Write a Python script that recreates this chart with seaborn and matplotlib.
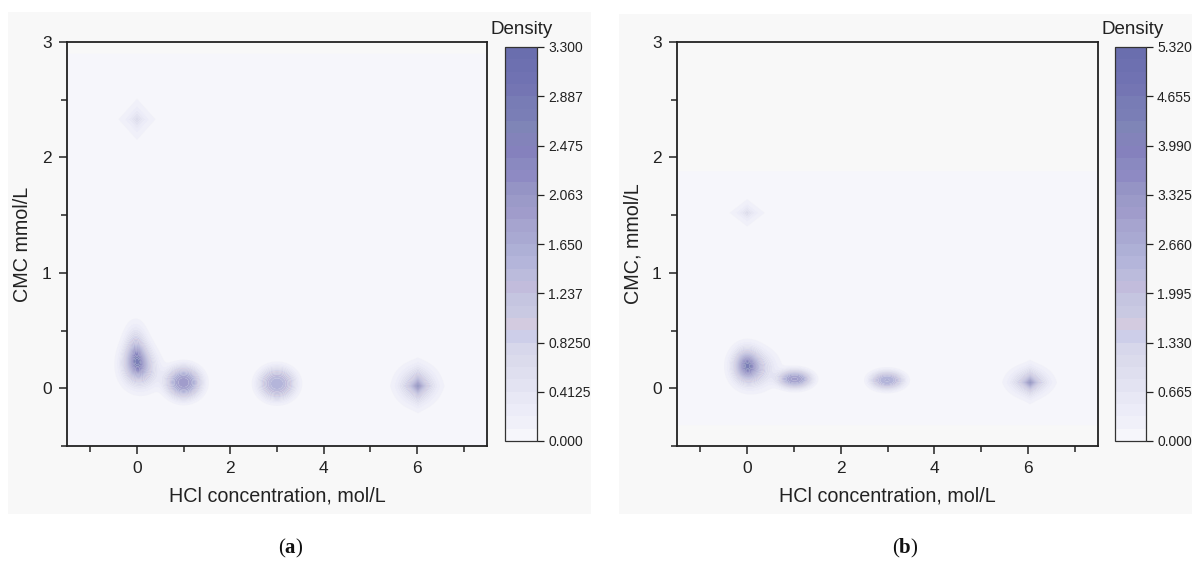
import numpy as np
import matplotlib
matplotlib.use("Agg")
import matplotlib.pyplot as plt
from matplotlib.colors import ListedColormap
from matplotlib.patches import Rectangle
from matplotlib.ticker import MultipleLocator
import seaborn as sns

# ---------------- data ----------------
# panel (a): density peaks
a_hcl     = [0.0, -0.03, 0.12, 1.0, 3.0, 6.02, 6.0, 0.0]
a_cmc     = [0.23, 0.36, 0.14, 0.05, 0.04, 0.02, 0.03, 2.33]
a_peak    = [1.9, 0.8, 0.7, 1.9, 1.5, 2.5, 0.8, 0.75]
a_sd_hcl  = [0.19, 0.15, 0.25, 0.3, 0.31, 0.14, 0.26, 0.2]
a_sd_cmc  = [0.1, 0.12, 0.1, 0.11, 0.11, 0.065, 0.1, 0.09]
a_kind    = ["g", "g", "g", "f", "f", "d", "g", "d"]
a_grid_y  = (-0.5, 2.9)

# panel (b)
b_hcl     = [-0.02, 0.18, 1.02, 2.99, 6.05, 6.03, 0.0]
b_cmc     = [0.20, 0.17, 0.08, 0.07, 0.05, 0.06, 1.52]
b_peak    = [3.3, 1.5, 3.0, 2.5, 4.2, 1.1, 1.2]
b_sd_hcl  = [0.18, 0.27, 0.28, 0.28, 0.14, 0.27, 0.19]
b_sd_cmc  = [0.09, 0.1, 0.065, 0.065, 0.055, 0.075, 0.06]
b_kind    = ["g", "g", "f", "f", "d", "g", "d"]
b_grid_y  = (-0.32, 1.88)

a_vmax = 3.3
b_vmax = 5.32
a_ticklabels = ["0.000", "0.4125", "0.8250", "1.237", "1.650", "2.063", "2.475", "2.887", "3.300"]
b_ticklabels = ["0.000", "0.6650", "1.330", "1.995", "2.660", "3.325", "3.990", "4.655", "5.320"]

x_label = "HCl concentration, mol/L"
a_ylabel = "CMC mmol/L"
b_ylabel = "CMC, mmol/L"

# ---------------- style ----------------
sns.set_theme(style="ticks")
plt.rcParams["font.family"] = ["Liberation Sans", "DejaVu Sans"]
plt.rcParams["mathtext.fontset"] = "custom"
plt.rcParams["mathtext.bf"] = "Liberation Serif:bold"
plt.rcParams["mathtext.rm"] = "Liberation Serif"

band_colors = ["#f6f6fb", "#f0f0f9", "#ececf8", "#e8e8f5",
               "#e3e3f2", "#dfdfef", "#dbdbec", "#d7d7eb",
               "#cdcee9", "#d3cbe0", "#c9c9e2", "#c5c5e0",
               "#c2bcdc", "#bbbbdc", "#b4b5da", "#aeb0d6",
               "#a9a9d2", "#a6a4cf", "#a09ccb", "#9b9ac8",
               "#9594c5", "#8e8ac3", "#8a89c0", "#8581bd",
               "#8383ba", "#7f85b7", "#7a7eb6", "#787cb5",
               "#7475b3", "#7072b2", "#6d70b0", "#6a6eae"]
cmap = ListedColormap(sns.color_palette(band_colors))

W, H = 1192, 563
fig = plt.figure(figsize=(W / 100, H / 100), dpi=100)
fig.patch.set_facecolor("white")

bg = "#f8f8f8"
for rect in [(8, 12, 591, 514), (619, 14, 1192, 514)]:
    x0, y0, x1, y1 = rect
    r = Rectangle((x0 / W, 1 - y1 / H), (x1 - x0) / W, (y1 - y0) / H,
                  transform=fig.transFigure, facecolor=bg, edgecolor="none", zorder=-10)
    fig.add_artist(r)


def density(X, Y, xs, ys, peaks, sx, sy, kinds):
    Z = np.zeros_like(X)
    for x0, y0, A, s1, s2, k in zip(xs, ys, peaks, sx, sy, kinds):
        dx = (X - x0) / s1
        dy = (Y - y0) / s2
        r2 = dx ** 2 + dy ** 2
        if k == "g":
            Z += A * np.exp(-0.5 * r2)
        elif k == "f":
            Z += A * np.exp(-0.5 * r2 ** 1.5)
        else:
            Z += A * np.exp(-(np.abs(dx) + np.abs(dy)))
    return Z


def panel(ax_rect, cax_rect, xs, ys, peaks, sx, sy, kinds, gy, vmax, tlabels, ylabel, tag, tag_x):
    ax = fig.add_axes(ax_rect)
    ax.set_facecolor(bg)
    gx = np.linspace(-1.5, 7.5, 901)
    gyv = np.linspace(gy[0], gy[1], 681)
    X, Y = np.meshgrid(gx, gyv)
    Z = np.clip(density(X, Y, xs, ys, peaks, sx, sy, kinds), 0, vmax * 0.999)
    levels = np.linspace(0, vmax, 33)
    cs = ax.contourf(X, Y, Z, levels=levels, cmap=cmap, antialiased=True)
    ax.set_xlim(-1.5, 7.5)
    ax.set_ylim(-0.5, 3.0)
    ax.xaxis.set_minor_locator(MultipleLocator(1))
    ax.yaxis.set_minor_locator(MultipleLocator(0.5))
    ax.set_xticks([0, 2, 4, 6])
    ax.set_xticklabels(["0", "2", "4", "6"])
    ax.set_yticks([0, 1, 2, 3])
    ax.set_yticklabels(["0", "1", "2", "3"])
    ax.tick_params(which="major", direction="out", length=6, width=1.1, labelsize=12.5,
                   colors="#222222", pad=5)
    ax.tick_params(which="minor", direction="out", length=4, width=1.1, colors="#222222")
    for s in ax.spines.values():
        s.set_visible(True)
        s.set_linewidth(1.3)
        s.set_color("#222222")
    ax.set_xlabel(x_label, fontsize=14.2, color="#222222", labelpad=7)
    ax.set_ylabel(ylabel, fontsize=14.2, color="#222222", labelpad=7)

    cax = fig.add_axes(cax_rect)
    cb = fig.colorbar(cs, cax=cax, ticks=np.linspace(0, vmax, 9))
    cb.set_ticklabels(tlabels)
    cb.ax.tick_params(direction="out", length=5, width=0.9, labelsize=10, colors="#222222", pad=3)
    cb.outline.set_linewidth(0.9)
    cb.outline.set_edgecolor("#333333")
    cax.set_title("Density", fontsize=13.5, color="#222222", pad=9, loc="left", x=-0.45)

    fig.text(tag_x / W, 1 - 548 / H, "(" + r"$\mathbf{" + tag + "}$" + ")",
             fontsize=15, family="Liberation Serif", ha="center", va="center", color="#111111")
    return ax


panel([67 / W, 1 - 446 / H, (487 - 67) / W, (446 - 42) / H],
      [505 / W, 1 - 441 / H, 32 / W, (441 - 47) / H],
      a_hcl, a_cmc, a_peak, a_sd_hcl, a_sd_cmc, a_kind, a_grid_y, a_vmax,
      a_ticklabels, a_ylabel, "a", 291)

panel([677 / W, 1 - 446 / H, (1098 - 677) / W, (446 - 42) / H],
      [1115 / W, 1 - 441 / H, 31 / W, (441 - 47) / H],
      b_hcl, b_cmc, b_peak, b_sd_hcl, b_sd_cmc, b_kind, b_grid_y, b_vmax,
      b_ticklabels, b_ylabel, "b", 905)

fig.savefig("out.png", dpi=100, facecolor=fig.get_facecolor())
